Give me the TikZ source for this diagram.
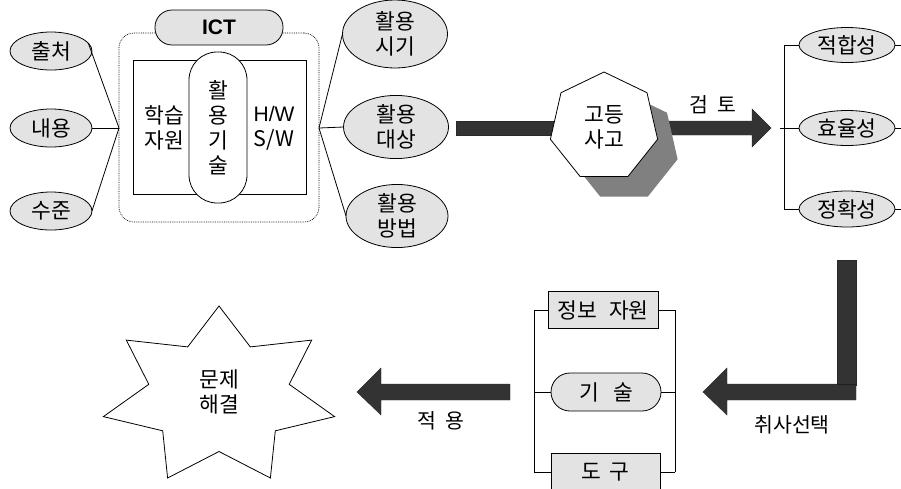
\documentclass[tikz,border=0pt]{standalone}
\usepackage{fontspec}
\setmainfont{Noto Sans CJK KR}
\newfontfamily\latinsf{Liberation Sans}
\usetikzlibrary{shapes.geometric}
\definecolor{lightg}{HTML}{E3E3E3}
\definecolor{darkarrow}{HTML}{333333}
\definecolor{shadowg}{HTML}{808080}
\newcommand\mygap[1]{\hspace{#1pt}}
\begin{document}
\begin{tikzpicture}[x=1pt,y=-1pt,
  every node/.style={font=\fontsize{21.5}{25}\selectfont, align=center, inner sep=0pt, outer sep=0pt},
  line/.style={draw=black, line width=0.8pt},
  ell/.style={ellipse, draw, line width=0.8pt, fill=lightg},
  box/.style={rectangle, draw, line width=0.8pt, fill=lightg},
  pill/.style={rectangle, draw, line width=0.8pt},
  bigarrow/.style={fill=darkarrow, draw=darkarrow!80!black, line width=0.4pt},
  lbl/.style={font=\fontsize{20.5}{24}\selectfont}
]
\useasboundingbox (0,0) rectangle (901,488);

% ---------- left cluster ----------
\node[ell, minimum width=82, minimum height=38] (chul) at (51,51) {출처};
\node[ell, minimum width=82, minimum height=38] (naeyong) at (51,128) {내용};
\node[ell, minimum width=82, minimum height=38] (sujun) at (51,211) {수준};
\coordinate (hl) at (119,128);
\coordinate (hr) at (319,128);
\draw[line] (chul.12) -- (hl);
\draw[line] (naeyong.east) -- (hl);
\draw[line] (sujun.east) -- (hl);

\node[pill, densely dotted, line width=0.7pt, rounded corners=15, minimum width=200, minimum height=189] (outer) at (219,127.5) {};
\node[pill, minimum width=173, minimum height=134] (inner) at (219.5,127) {};
\node[pill, fill=white, rounded corners=28, minimum width=58, minimum height=151] (tech) at (218,127.5) {활\\용\\기\\술};
\node[pill, fill=lightg, rounded corners=17, minimum width=128, minimum height=35] (ict) at (219,27.5) {\latinsf\bfseries\fontsize{21}{24}\selectfont ICT};
\node (res) at (164,128) {학습\\자원};
\node (hw) at (274,128) {\latinsf\fontsize{21}{25}\selectfont H/W\\S/W};

\node[ell, minimum width=105, minimum height=68] (sigi) at (395,34) {활용\\시기};
\node[ell, minimum width=105, minimum height=54] (daesang) at (396,127) {활용\\대상};
\node[ell, minimum width=102, minimum height=62] (bangbeop) at (397,216) {활용\\방법};
\draw[line] (hr) -- (sigi.west);
\draw[line] (hr) -- (daesang.west);
\draw[line] (hr) -- (bangbeop.west);

% ---------- big arrow with heptagon ----------
\fill[bigarrow] (456,121) rectangle (590,135);
\path[bigarrow] (640,121) -- (752,121) -- (752,109) -- (771,128) -- (752,147) -- (752,135) -- (640,135) -- cycle;
\node[regular polygon, regular polygon sides=7, fill=shadowg, minimum size=110] (shadow) at (624,147) {};
\node[regular polygon, regular polygon sides=7, draw, line width=0.8pt, fill=white, minimum size=110] (think) at (604,127) {고등\\사고};
\node[lbl] (review) at (713,105) {검\mygap{9}토};

% ---------- right cluster ----------
\coordinate (rt) at (784,45);
\coordinate (rm) at (784,128);
\coordinate (rb) at (784,209);
\coordinate (rs) at (780,128);
\node[ell, minimum width=96, minimum height=35] (fit) at (847,45) {적합성};
\node[ell, minimum width=96, minimum height=35] (eff) at (847,128) {효율성};
\node[ell, minimum width=96, minimum height=36] (acc) at (847,209) {정확성};
\coordinate (fe) at (901,45);
\coordinate (ee) at (901,128);
\coordinate (ae) at (901,209);
\draw[line] (rt) -- (rb);
\draw[line] (rs) -- (eff.west);
\draw[line] (rt) -- (fit.west);
\draw[line] (rb) -- (acc.west);
\draw[line] (fit.east) -- (fe);
\draw[line] (eff.east) -- (ee);
\draw[line] (acc.east) -- (ae);

% ---------- L arrow ----------
\path[bigarrow] (837,260) rectangle (856,385);
\path[bigarrow] (856,384) -- (727,384) -- (727,368) -- (703,392) -- (727,415) -- (727,400) -- (856,400) -- cycle;
\draw[darkarrow!60!black, line width=0.4pt] (837,384) -- (856,384);
\node[lbl] (choose) at (792,425) {취사선택};

% ---------- middle group ----------
\node[box, minimum width=110, minimum height=37] (info) at (603,310) {정보\mygap{12}자원};
\node[pill, fill=lightg, rounded corners=19, minimum width=110, minimum height=38] (skill) at (606,392) {기\mygap{14}술};
\node[box, minimum width=109, minimum height=38] (tool) at (605.5,472) {도\mygap{9}구};
\coordinate (lt) at (534,310);
\coordinate (lm) at (534,392);
\coordinate (lb) at (534,472);
\coordinate (mt) at (675,310);
\coordinate (mm) at (675,392);
\coordinate (mb) at (675,472);
\draw[line] (lt) -- (lb);
\draw[line] (mt) -- (mb);
\draw[line] (lt) -- (info.west);
\draw[line] (info.east) -- (mt);
\draw[line] (lm) -- (skill.west);
\draw[line] (skill.east) -- (mm);
\draw[line] (lb) -- (tool.west);
\draw[line] (tool.east) -- (mb);

% ---------- left arrow ----------
\path[bigarrow] (510,384) -- (381,384) -- (381,368) -- (357,392) -- (381,415) -- (381,400) -- (510,400) -- cycle;
\node[lbl] (apply) at (441,421) {적\mygap{9}용};

% ---------- star ----------
\draw[line, fill=white] (219,306) -- (250.3,346.9) -- (311.7,340.1) -- (289.2,384.3) -- (334.6,416.6)
  -- (275.3,430.8) -- (270.4,478.0) -- (219,451.5) -- (167.6,478.0) -- (162.7,430.8)
  -- (103.4,416.6) -- (148.8,384.3) -- (126.3,340.1) -- (187.7,346.9) -- cycle;
\node (solve) at (219,391.5) {문제\\해결};
\end{tikzpicture}
\end{document}
